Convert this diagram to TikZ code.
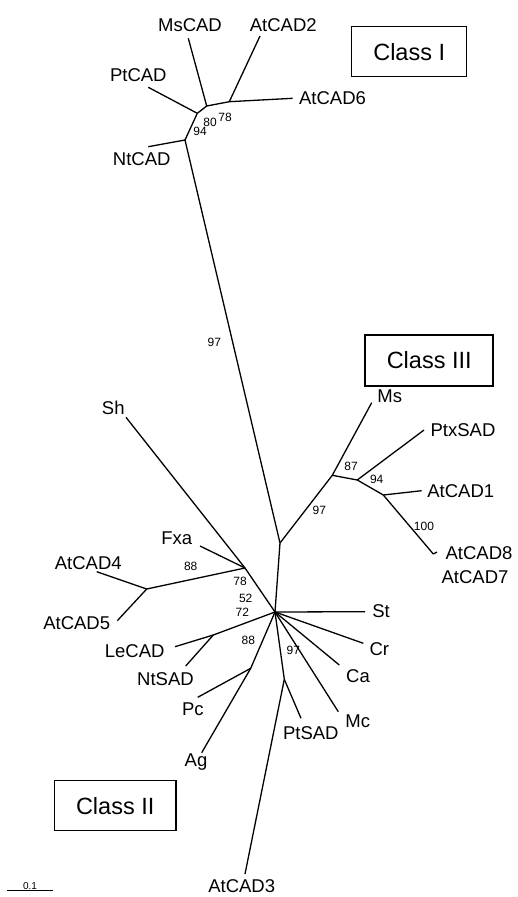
\documentclass[tikz,border=0pt]{standalone}
\usepackage{fontspec}
\setmainfont{Liberation Sans}
\begin{document}
\begin{tikzpicture}[x=1pt,y=-1pt,line width=1.3pt,
    taxon/.style={font=\fontsize{18.5}{20}\selectfont,inner sep=0pt},
    boot/.style={font=\fontsize{12}{13}\selectfont,inner sep=0pt},
    classbox/.style={draw,line width=1.5pt,font=\fontsize{23.5}{26}\selectfont,inner sep=0pt}]
      \useasboundingbox (0,0) rectangle (517,897);
      % inner nodes of the tree
      \path
        (185,140) coordinate (c1)
        (197.3,113.3) coordinate (c2)
        (206.7,106) coordinate (c3)
        (229.3,101.7) coordinate (c4)
        (280,543) coordinate (r3)
        (332.3,475.3) coordinate (s1)
        (357.3,480) coordinate (s2)
        (383.3,495) coordinate (s3)
        (275,612) coordinate (hub)
        (245,568) coordinate (f1)
        (146.7,589) coordinate (f2)
        (213.3,635) coordinate (le)
        (250.7,668.3) coordinate (pc)
        (284.3,679.3) coordinate (pt);
      % tips
      \path
        (188.3,38.3) coordinate (tMsCAD)
        (260,36) coordinate (tAtCADii)
        (148.3,87.3) coordinate (tPtCAD)
        (292.7,98.3) coordinate (tAtCADvi)
        (148.3,146.7) coordinate (tNtCAD)
        (371.7,402.7) coordinate (tMs)
        (424,430) coordinate (tPtxSAD)
        (421.7,490.7) coordinate (tAtCADi)
        (433.3,554) coordinate (tAtCADviii)
        (437,552) coordinate (tAtCADvii)
        (126,417.3) coordinate (tSh)
        (200,546) coordinate (tFxa)
        (96.7,571.7) coordinate (tAtCADiv)
        (117.3,620.7) coordinate (tAtCADv)
        (175,646.7) coordinate (tLeCAD)
        (185.7,666) coordinate (tNtSAD)
        (197.7,697.3) coordinate (tPc)
        (201.7,752.7) coordinate (tAg)
        (365,611.7) coordinate (tSt)
        (363.3,643.3) coordinate (tCr)
        (339.3,665) coordinate (tCa)
        (338.3,711.7) coordinate (tMc)
        (301,718.3) coordinate (tPtSAD)
        (245,874) coordinate (tAtCADiii);
      % taxa
      \path
        (190,25) node[taxon] (MsCAD){MsCAD}
        (283.3,25) node[taxon] (AtCADii){AtCAD2}
        (138.3,75) node[taxon] (PtCAD){PtCAD}
        (298.5,98.3) node[taxon,anchor=west] (AtCADvi){AtCAD6}
        (141.7,159.3) node[taxon] (NtCAD){NtCAD}
        (376.7,396.7) node[taxon,anchor=west] (Ms){Ms}
        (430,430) node[taxon,anchor=west] (PtxSAD){PtxSAD}
        (426.7,490.7) node[taxon,anchor=west] (AtCADi){AtCAD1}
        (445,553.3) node[taxon,anchor=west] (AtCADviii){AtCAD8}
        (441,577) node[taxon,anchor=west] (AtCADvii){AtCAD7}
        (113.3,408.3) node[taxon] (Sh){Sh}
        (176.7,538.3) node[taxon] (Fxa){Fxa}
        (88.3,562.7) node[taxon] (AtCADiv){AtCAD4}
        (76.7,623.3) node[taxon] (AtCADv){AtCAD5}
        (134.7,651) node[taxon] (LeCAD){LeCAD}
        (165.5,679.3) node[taxon] (NtSAD){NtSAD}
        (192.8,709) node[taxon] (Pc){Pc}
        (196,762) node[taxon] (Ag){Ag}
        (381,610.7) node[taxon] (St){St}
        (379.3,649) node[taxon] (Cr){Cr}
        (358,676) node[taxon] (Ca){Ca}
        (357.8,721.7) node[taxon] (Mc){Mc}
        (310.8,733.3) node[taxon] (PtSAD){PtSAD}
        (241.7,886) node[taxon] (AtCADiii){AtCAD3};
      % bootstrap values
      \path
        (200,131) node[boot] (b1){94}
        (210,122.7) node[boot] (b2){80}
        (225,117.3) node[boot] (b3){78}
        (214.3,342.7) node[boot] (b4){97}
        (351,466) node[boot] (b5){87}
        (376.7,479.3) node[boot] (b6){94}
        (319.3,510) node[boot] (b7){97}
        (424,526) node[boot] (b8){100}
        (190.7,566) node[boot] (b9){88}
        (240,581.7) node[boot] (b10){78}
        (245.7,598.3) node[boot] (b11){52}
        (242.3,612.3) node[boot] (b12){72}
        (248.3,640) node[boot] (b13){88}
        (293.3,650.7) node[boot] (b14){97};
      % class boxes
      \path
        (409.2,51.7) node[classbox,minimum width=115pt,minimum height=50pt] (ClassI){Class I}
        (429.2,360.5) node[classbox,minimum width=128pt,minimum height=51pt] (ClassIII){Class III}
        (115.2,805.7) node[classbox,minimum width=121.7pt,minimum height=50pt] (ClassII){Class II};
      \begin{scope}[-]
        \draw (c1) to (tNtCAD);
        \draw (c1) to (c2);
        \draw (c2) to (tPtCAD);
        \draw (c2) to (c3);
        \draw (c3) to (tMsCAD);
        \draw (c3) to (c4);
        \draw (c4) to (tAtCADii);
        \draw (c4) to (tAtCADvi);
        \draw (c1) to (r3);
        \draw (r3) to (s1);
        \draw (s1) to (tMs);
        \draw (s1) to (s2);
        \draw (s2) to (tPtxSAD);
        \draw (s2) to (s3);
        \draw (s3) to (tAtCADi);
        \draw (s3) to (tAtCADviii);
        \draw (tAtCADviii) to (tAtCADvii);
        \draw (r3) to (hub);
        \draw (hub) to (f1);
        \draw (f1) to (tSh);
        \draw (f1) to (tFxa);
        \draw (f1) to (f2);
        \draw (f2) to (tAtCADiv);
        \draw (f2) to (tAtCADv);
        \draw (hub) to (le);
        \draw (le) to (tLeCAD);
        \draw (le) to (tNtSAD);
        \draw (hub) to (pc);
        \draw (pc) to (tPc);
        \draw (pc) to (tAg);
        \draw (hub) to (pt);
        \draw (pt) to (tPtSAD);
        \draw (pt) to (tAtCADiii);
        \draw (hub) to (tSt);
        \draw (hub) to (tCr);
        \draw (hub) to (tCa);
        \draw (hub) to (tMc);
      \end{scope}
      % scale bar
      \path (7.3,890.7) coordinate (sb1) (52.7,890.7) coordinate (sb2);
      \draw[line width=0.8pt] (sb1) to node[above=1pt,inner sep=0pt,font=\fontsize{10}{11}\selectfont] (sbl){0.1} (sb2);
    \end{tikzpicture}
\end{document}
